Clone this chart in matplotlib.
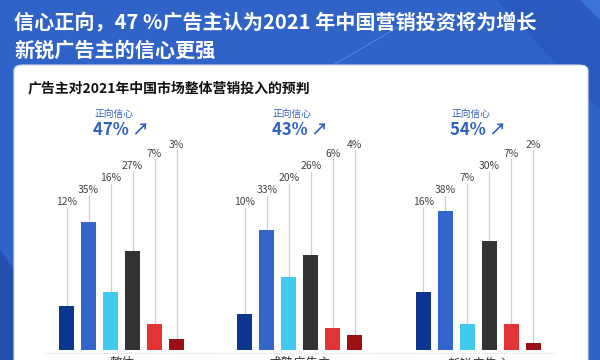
import numpy as np
import matplotlib
matplotlib.use("Agg")
import matplotlib.pyplot as plt
from matplotlib.patches import FancyBboxPatch, Polygon

plt.rcParams['font.family'] = ['Noto Sans CJK SC', 'DejaVu Sans']

# data
title_lines = ["信心正向，47 %广告主认为2021 年中国营销投资将为增长", "新锐广告主的信心更强"]
subtitle = "广告主对2021年中国市场整体营销投入的预判"
groups = ["整体", "成熟广告主", "新锐广告主"]
positive = ["47%", "43%", "54%"]
overall = [12, 35, 16, 27, 7, 3]
mature = [10, 33, 20, 26, 6, 4]
emerging = [16, 38, 7, 30, 7, 2]
bar_colors = ["#0b3590", "#3366cc", "#41c9ee", "#333333", "#e23434", "#9c1014"]

W, H = 600, 360
fig = plt.figure(figsize=(6, 3.6), dpi=100)
fig.patch.set_facecolor("#2f63c8")

def fx(px):
    return px / W

def fy(py):
    return 1 - py / H

# background stripes
fig.patches.append(Polygon([(fx(497), fy(0)), (fx(580), fy(0)), (fx(600), fy(20)), (fx(600), fy(110))],
                           closed=True, transform=fig.transFigure, facecolor="#2a59bd", edgecolor="none", zorder=0))
fig.patches.append(Polygon([(fx(580), fy(0)), (fx(600), fy(0)), (fx(600), fy(20))],
                           closed=True, transform=fig.transFigure, facecolor="#3d72d6", edgecolor="none", zorder=0))
fig.patches.append(Polygon([(fx(0), fy(250)), (fx(14), fy(270)), (fx(14), fy(360)), (fx(0), fy(360))],
                           closed=True, transform=fig.transFigure, facecolor="#2450ad", edgecolor="none", zorder=0))
fig.lines.append(plt.Line2D([fx(335), fx(400)], [fy(64), fy(26)], transform=fig.transFigure,
                            color="#5fa8ee", lw=0.6, alpha=0.7, zorder=0))

# white card
card = FancyBboxPatch((fx(14), fy(400)), fx(574), (400 - 65) / H,
                      boxstyle="round,pad=0,rounding_size=0.015", transform=fig.transFigure,
                      facecolor="white", edgecolor="#d8dce6", linewidth=0.8, zorder=1)
fig.patches.append(card)

fig.text(fx(14), fy(23), title_lines[0], color="white", fontsize=14.5, fontweight="bold", va="center", ha="left")
fig.text(fx(14), fy(50), title_lines[1], color="white", fontsize=14.5, fontweight="bold", va="center", ha="left")
fig.text(fx(28), fy(88), subtitle, color="#111111", fontsize=10, fontweight="bold", va="center", ha="left")

# bar axes: baseline at y=350px, 3.65 px per percent; x unit = 22 px, first bar at 66.5 px
ax_l, ax_r, ax_b, ax_t = 40, 560, 350, 100
ax = fig.add_axes([fx(ax_l), fy(ax_b), (ax_r - ax_l) / W, (ax_b - ax_t) / H])
ax.set_zorder(2)
ax.patch.set_alpha(0)
ax.set_xlim((ax_l - 66.5) / 22, (ax_r - 66.5) / 22)
ax.set_ylim(0, (ax_b - ax_t) / 3.65)
ax.axis("off")

series = [overall, mature, emerging]
gap = 8.11
for g, vals in enumerate(series):
    xs = g * gap + np.arange(len(vals))
    ax.bar(xs, vals, width=0.68, color=bar_colors, zorder=3)
    for i, (x, v) in enumerate(zip(xs, vals)):
        lab_y = 40.6 + i * 3.3 if i < 5 else 40.6 + 4 * 3.3 + 2.5
        ax.plot([x, x], [v, lab_y - 1.6], color="#cfcfcf", lw=0.9, zorder=2)
        ax.text(x, lab_y, f"{v}%", ha="center", va="center", fontsize=7.5, color="#444444")
    ax.text(xs[1] + 0.26, 64.8, "正向信心", ha="left", va="center", fontsize=7, color="#2f5fbf")
    ax.text(xs[1] + 0.22, 60.3, positive[g] + " ↗", ha="left", va="center", fontsize=12,
            fontweight="bold", color="#2f5fbf")
    ax.text(g * gap + 2.5, -2.0, groups[g], ha="center", va="top", fontsize=9, color="#333333", clip_on=False)

ax.plot([-1.0, 22.2], [-0.8, -0.8], color="#d0d0d0", lw=0.8, ls=(0, (1, 1.5)), clip_on=False)

fig.savefig("out.png", dpi=100, facecolor=fig.get_facecolor())
